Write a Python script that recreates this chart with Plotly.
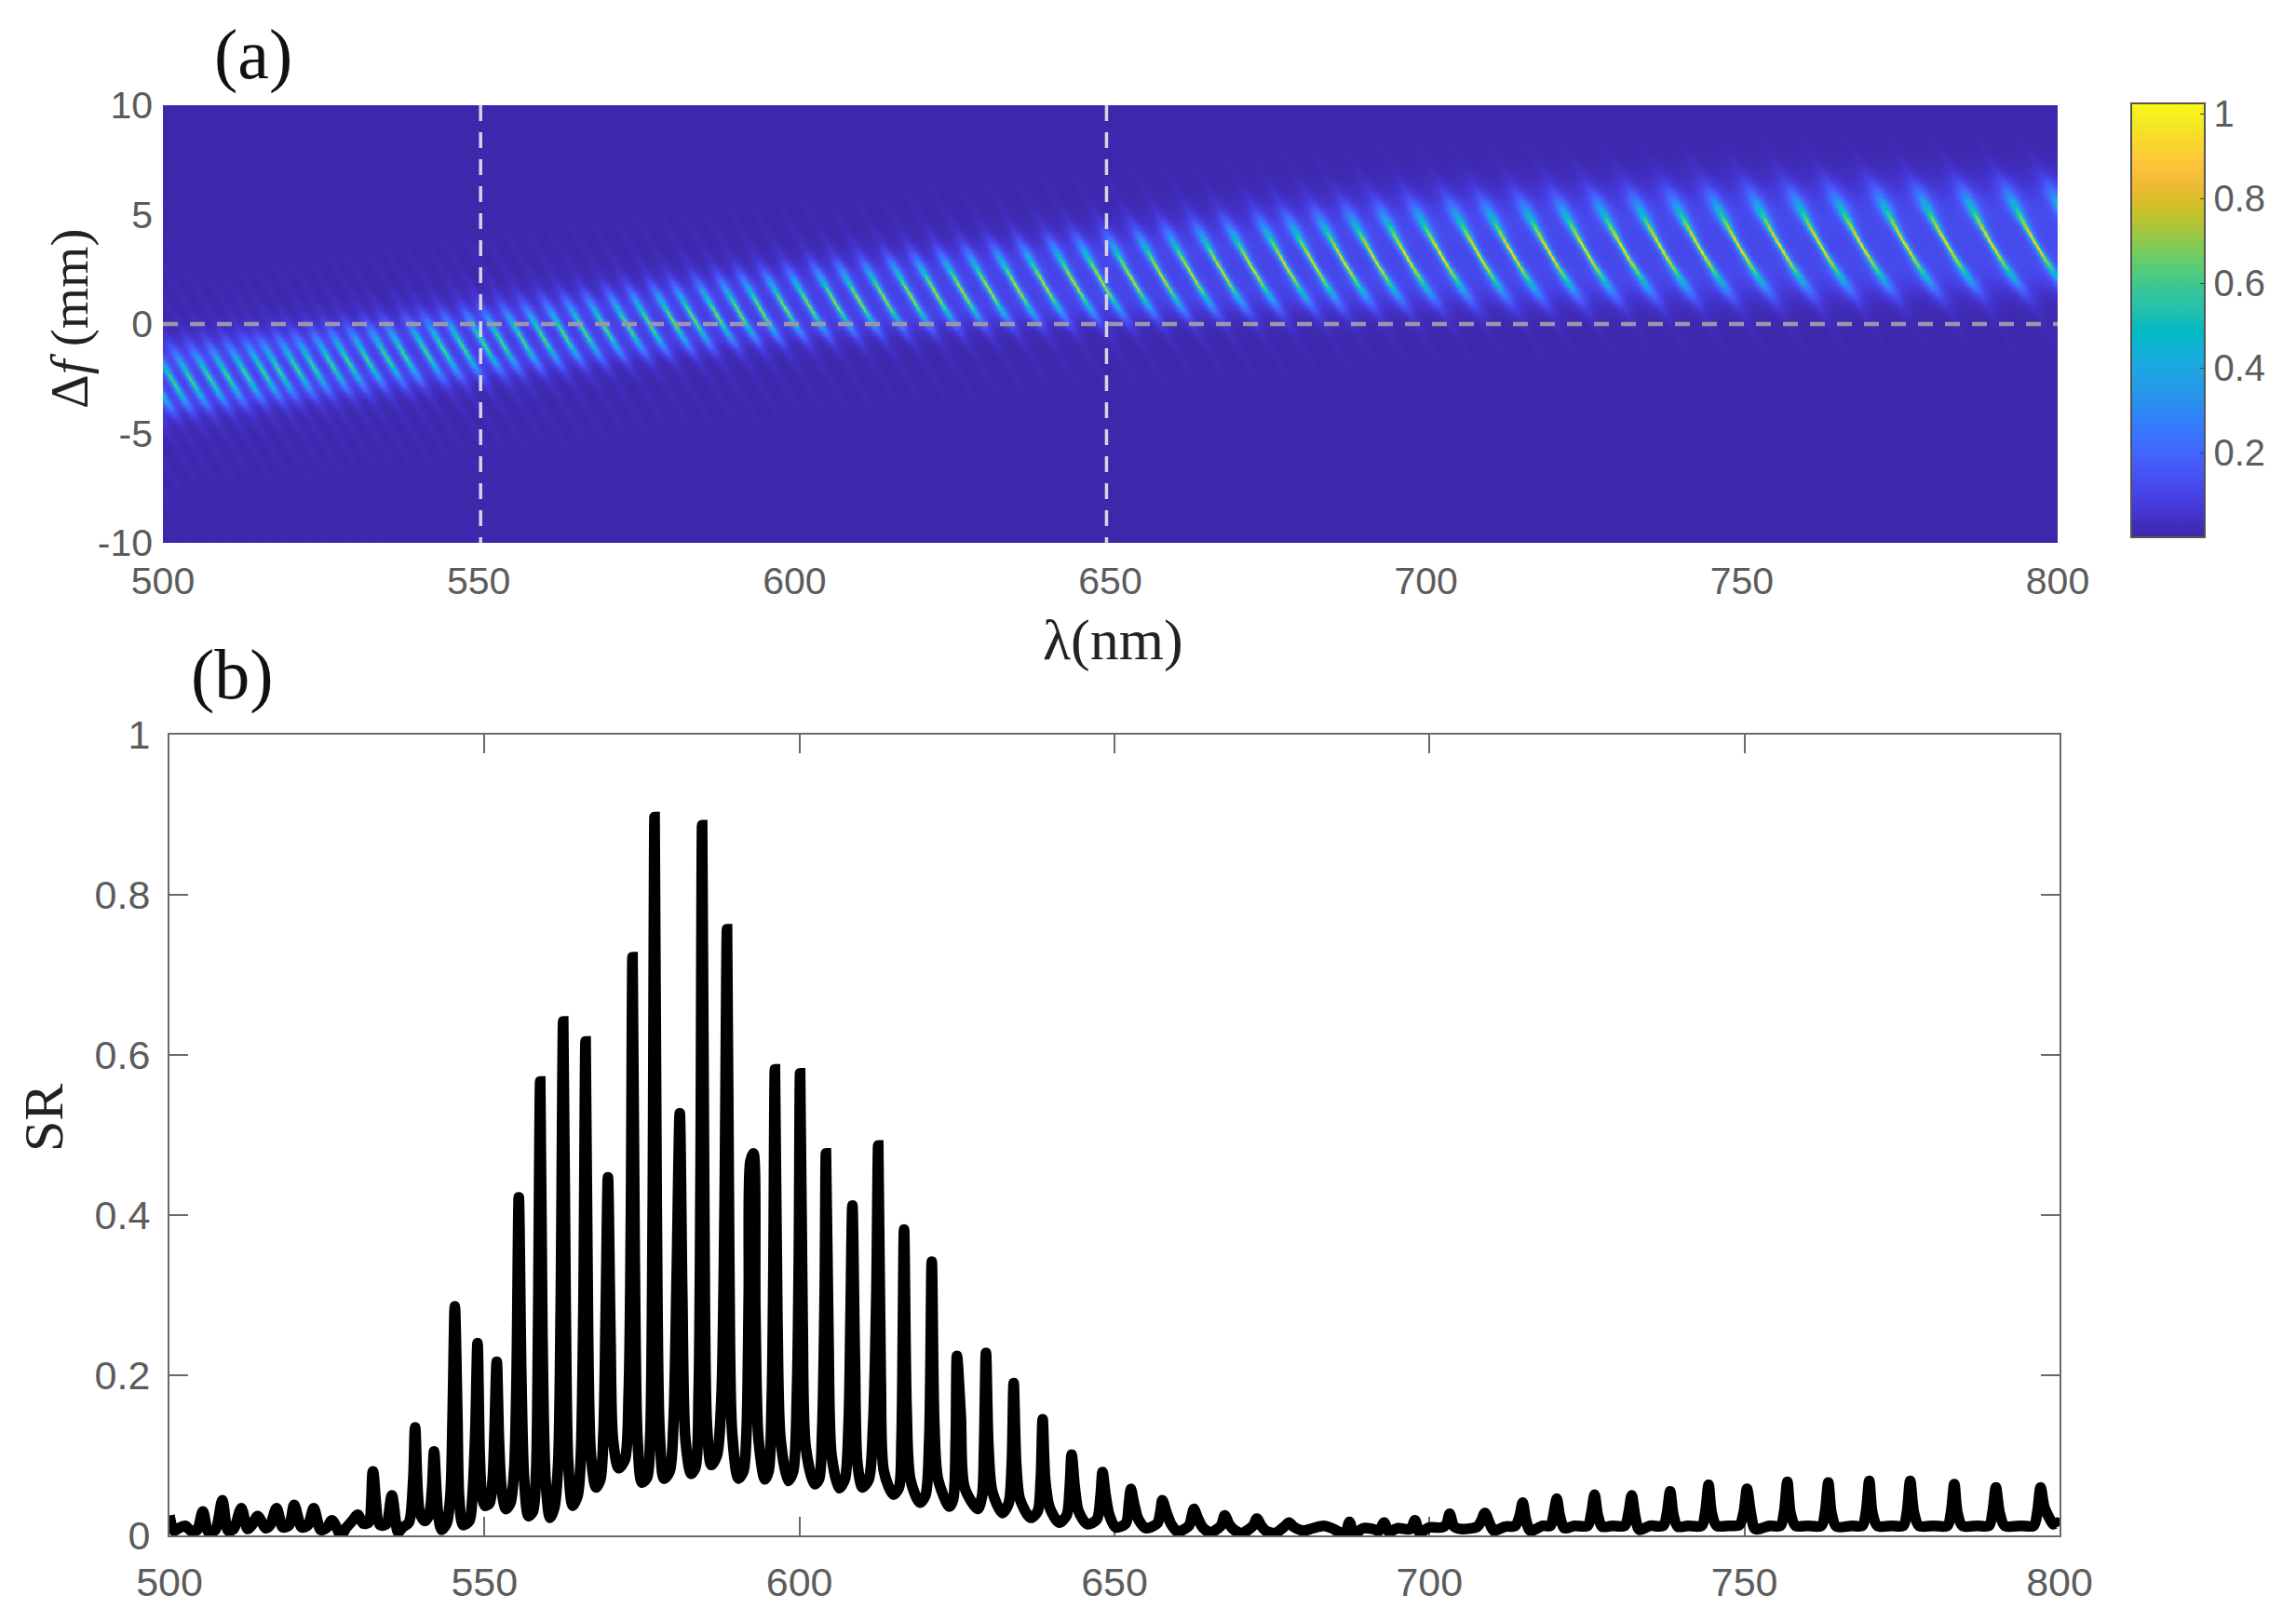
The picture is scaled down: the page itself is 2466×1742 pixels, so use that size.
import numpy as np
import plotly.graph_objects as go

W, H = 2466, 1742

# ---------- panel (b): SR curve ----------
sr_points = [
500,.025, 500.7,.006, 501.5,.009, 502.5,.012, 503.4,.006, 504.4,.007, 505.3,.03, 506.2,.004, 507.3,.007, 508.4,.044,
509.3,.006, 510.2,.008, 511.4,.034, 512.4,.008, 513.1,.013, 514,.024, 515.3,.009, 516,.013, 517,.034, 518,.01, 519,.013,
519.8,.038, 521,.01, 522,.013, 522.9,.034, 524,.007, 525,.01, 525.8,.019, 526.7,.007, 527.2,-.001, 528,.009, 529,.018,
529.9,.026, 530.7,.015, 531.6,.016, 532.3,.08, 533.4,.013, 534.4,.014, 535.3,.05, 536.3,.004, 537,.01, 538,.016,
538.7,.07, 539,.135, 539.7,.03, 540.5,.018, 541.2,.025, 541.7,.06, 542,.105, 542.6,.03, 543.2,.007, 544,.015,
544.6,.05, 544.95,.15, 545.3,.286, 545.7,.15, 546,.045, 546.6,.013, 547.6,.018, 548.1,.05, 548.55,.13, 548.9,.24,
549.25,.1, 549.6,.05, 550.1,.037, 550.8,.04, 551.3,.07, 551.6,.13, 551.95,.217, 552.3,.12, 552.7,.06, 553.4,.033,
554.1,.04, 554.7,.08, 555.1,.2, 555.45,.422, 555.85,.2, 556.3,.07, 557,.024, 557.7,.03, 558.2,.08, 558.5,.25, 558.85,.567,
559.2,.25, 559.7,.07, 560.4,.022, 561.1,.035, 561.7,.09, 562.1,.28, 562.5,.642, 562.9,.28, 563.3,.09, 564,.037,
564.8,.05, 565.3,.1, 565.7,.28, 566.05,.617, 566.45,.25, 566.9,.1, 567.7,.06, 568.4,.07, 568.9,.13, 569.25,.28,
569.6,.447, 570,.25, 570.4,.12, 571.3,.084, 572.3,.095, 572.9,.18, 573.25,.4, 573.5,.722, 573.85,.35, 574.3,.12,
575,.066, 575.8,.072, 576.3,.12, 576.7,.4, 577,.897, 577.35,.4, 577.8,.13, 578.5,.071, 579.4,.08, 580,.14, 580.5,.32,
581,.527, 581.4,.3, 581.9,.12, 582.8,.077, 583.5,.085, 584,.18, 584.3,.45, 584.55,.887, 584.9,.4, 585.3,.14, 586,.088,
586.9,.1, 587.6,.17, 588.1,.4, 588.5,.757, 588.85,.35, 589.3,.13, 590.3,.071, 591.1,.08, 591.6,.13, 591.95,.3, 592.2,.467,
592.7,.477, 593,.28, 593.5,.12, 594.5,.07, 595.1,.08, 595.6,.17, 595.85,.32, 596.1,.582, 596.5,.27, 597,.12, 598.2,.068,
599,.08, 599.6,.18, 599.9,.35, 600.1,.577, 600.5,.27, 601,.11, 602.4,.064, 603.1,.07, 603.6,.13, 604,.3, 604.2,.477,
604.6,.25, 605.1,.1, 606.3,.059, 607.2,.07, 607.8,.14, 608.1,.27, 608.4,.412, 608.8,.22, 609.2,.09, 610,.06, 611,.07,
611.7,.14, 612.2,.3, 612.5,.487, 612.9,.2, 613.4,.08, 614.9,.051, 615.8,.06, 616.2,.12, 616.6,.382, 617,.16, 617.6,.07,
619.1,.041, 620,.05, 620.6,.12, 621,.342, 621.4,.14, 622,.07, 623.8,.036, 624.4,.045, 624.8,.12, 625,.224, 625.6,.15,
626.2,.06, 628.3,.033, 629,.05, 629.3,.11, 629.6,.228, 630,.11, 630.6,.055, 632.2,.028, 633.2,.04, 633.7,.09, 634,.19,
634.4,.09, 635,.045, 636.7,.022, 637.8,.03, 638.3,.07, 638.6,.145, 639,.07, 639.7,.035, 641.2,.016, 642.4,.025,
642.9,.06, 643.2,.101, 643.7,.06, 644.3,.03, 645.7,.014, 647.2,.02, 647.8,.05, 648.1,.079, 648.6,.05, 649.2,.025,
650.2,.01, 651.8,.015, 652.3,.04, 652.6,.058, 653.1,.04, 653.8,.02, 655,.009, 656.8,.015, 657.3,.03, 657.6,.044,
658.2,.03, 659,.014, 660,.005, 661.8,.012, 662.3,.025, 662.6,.033, 663.2,.022, 664,.01, 665.2,.004, 666.9,.012,
667.5,.025, 668.2,.014, 669,.007, 670.2,.003, 672,.012, 672.6,.021, 673.3,.012, 674,.006, 675.5,.003, 677.1,.012,
677.7,.016, 678.4,.011, 680,.006, 681.5,.009, 683.2,.012, 684.5,.009, 685.5,.005, 686.6,.002, 687.3,.017, 688,.002,
689.5,.009, 691,.008, 692,.006, 692.8,.016, 693.5,.005, 695,.009, 697,.008, 697.7,.019, 698.4,.004, 700,.01, 702,.01,
702.7,.014, 703.2,.027, 703.9,.011, 705,.008, 707.6,.011, 708.2,.018, 708.8,.028, 709.5,.016, 710.2,.006, 712,.011,
713.6,.012, 714.3,.024, 714.8,.041, 715.3,.02, 716,.006, 718,.012, 719.2,.012, 719.7,.026, 720.2,.046, 720.7,.024, 721.4,.009,
723,.012, 725.1,.012, 725.7,.028, 726.2,.051, 726.7,.026, 727.4,.011, 729,.012, 731,.012, 731.6,.028, 732.1,.05,
732.6,.026, 733.3,.007, 735,.012, 737.1,.012, 737.7,.028, 738.2,.055, 738.7,.026, 739.4,.011, 741,.012, 743.2,.012,
743.8,.03, 744.3,.063, 744.8,.028, 745.6,.012, 747.5,.012, 749.2,.013, 749.9,.03, 750.4,.058, 751,.028, 751.7,.008,
754,.012, 755.7,.012, 756.3,.03, 756.8,.067, 757.3,.028, 758.1,.012, 760,.012, 762.2,.012, 762.8,.03, 763.3,.066,
763.8,.028, 764.6,.011, 767,.012, 768.7,.012, 769.3,.03, 769.8,.068, 770.3,.028, 771.1,.012, 773.5,.012, 775.2,.012,
775.8,.03, 776.3,.068, 776.9,.028, 777.7,.012, 780,.012, 782.2,.012, 782.8,.03, 783.3,.064, 783.8,.028, 784.6,.012,
787,.012, 788.8,.012, 789.4,.03, 789.9,.06, 790.5,.028, 791.3,.012, 794,.012, 795.9,.012, 796.5,.03, 797,.06, 797.6,.035,
798.5,.02, 799,.014, 799.6,.016, 800,.012,
]
sr_wavelength = sr_points[0::2]
sr_value = sr_points[1::2]

# ---------- panel (a): stripe crossings of df = 0 and band read-offs ----------
stripe_crossing = [478, 481, 484, 487, 490.4, 493.2, 496.2, 499.2, 502.3, 505.3, 508.4, 511.4, 514, 517, 519.8, 522.9,
    525.8, 529, 532.3, 535.3, 539, 542, 545.3, 548.9, 551.9, 555.4, 558.9, 562.5, 566, 569.6, 573.4, 577, 581, 584.5,
    588.5, 592.3, 596, 600, 604, 608.4, 612.4, 616.6, 621, 625.2, 629.6, 634, 638.6, 643.2, 648.1, 652.6, 657.6, 662.6,
    667.5, 672.6, 677.7, 683.2, 687.8, 692.8, 697.9, 703.2, 708.8, 714.8, 720.2, 726.2, 732.1, 738.2, 744.3, 750.4,
    756.8, 763.3, 769.8, 776.3, 783.3, 789.9, 797, 804, 811, 818, 825.5, 833]
band_wavelength = [470, 500, 525, 550, 575, 600, 625, 650, 675, 700, 750, 800, 840]
band_center_df = [-3.8, -2.75, -1.9, -1.0, -0.05, 0.8, 1.45, 2.0, 2.6, 3.1, 3.5, 3.75, 4.0]
band_halfwidth = [1.25, 1.25, 1.25, 1.3, 1.3, 1.35, 1.45, 1.6, 1.75, 1.9, 2.0, 2.0, 2.0]
band_peak = [.50, .50, .50, .52, .56, .62, .68, .72, .76, .80, .80, .78, .78]
band_halo = [.07, .07, .07, .07, .08, .08, .09, .10, .10, .11, .11, .12, .12]
stripe_width = [.50, .50, .48, .46, .42, .40, .38, .36, .36, .36, .36, .36, .36]
stripe_curvature = [.03, .03, .04, .05, .05, .05, .05, .06, .06, .07, .08, .10, .11]
marker_lines = [550.3, 649.4]

x_ticks = [500, 550, 600, 650, 700, 750, 800]
a_y_ticks = [-10, -5, 0, 5, 10]
a_y_labels = ["-10", "-5", "0", "5", "10"]
b_y_ticks = [0, .2, .4, .6, .8, 1]
b_y_labels = ["0", "0.2", "0.4", "0.6", "0.8", "1"]
cbar_ticks = [.2, .4, .6, .8, 1]
cbar_labels = ["0.2", "0.4", "0.6", "0.8", "1"]

# render the stripe field from the read-offs above
lam = np.arange(500, 800.01, 0.2)
df = np.arange(-10, 10.01, 0.05)
L, F = np.meshgrid(lam, df)
SLOPE = 2.05
U = F - np.interp(L, band_wavelength, band_center_df)
HW = np.interp(L, band_wavelength, band_halfwidth)
z = 0.004 + np.interp(L, band_wavelength, band_halo) * np.exp(-(U / (HW * np.where(U > 0, 1.2, 1.05))) ** 4)
for cross in stripe_crossing:
    fc = np.interp(cross, band_wavelength, band_center_df)
    for _ in range(3):
        fc = np.interp(cross - SLOPE * fc, band_wavelength, band_center_df)
    at = cross - SLOPE * fc
    amp = np.interp(at, band_wavelength, band_peak)
    curv = np.interp(at, band_wavelength, stripe_curvature)
    hw = np.interp(at, band_wavelength, band_halfwidth)
    w0 = np.interp(at, band_wavelength, stripe_width)
    u = F - fc
    uc = np.clip(u, -2.6, 2.6)
    d = L - (at - SLOPE * u + curv * uc ** 2)
    env = np.exp(-(u / (hw * np.where(u > 0, .95, .8))) ** 2)
    w = w0 * (1 + (u / 1.2) ** 2)
    core = amp * env / (1 + (d / w) ** 2) ** 1.5
    tail = .06 * np.exp(-np.abs(u) / 2.6) * np.exp(-(d / 0.8) ** 2)
    z = z + core + tail
z = np.clip(z, 0, 1.02).round(3)

parula = [(0.2422,0.1504,0.6603),(0.2647,0.1978,0.7952),(0.2783,0.2559,0.8991),(0.2810,0.3228,0.9579),
(0.2699,0.3892,0.9906),(0.2206,0.4603,0.9973),(0.1786,0.5289,0.9682),(0.1540,0.5902,0.9218),(0.1248,0.6459,0.8883),
(0.0689,0.6948,0.8394),(0.0067,0.7312,0.7660),(0.1408,0.7584,0.6842),(0.2161,0.7843,0.5923),(0.3406,0.8008,0.4789),
(0.5044,0.7993,0.3480),(0.6720,0.7793,0.2227),(0.8203,0.7498,0.1535),(0.9393,0.7288,0.2100),(0.9970,0.7659,0.2199),
(0.9786,0.8386,0.1766),(0.9597,0.9135,0.1423),(0.9769,0.9839,0.0805)]
colorscale = [[i / (len(parula) - 1), "rgb(%d,%d,%d)" % tuple(int(c * 255) for c in p)] for i, p in enumerate(parula)]

GREY = "#5c5c5c"
SANS = "Liberation Sans"
SERIF = "Liberation Serif"

fig = go.Figure()
fig.add_trace(go.Heatmap(x=lam, y=df, z=z, zmin=0, zmax=1.025, zsmooth="best", colorscale=colorscale, xaxis="x", yaxis="y",
    colorbar=dict(x=2289 / W, xanchor="left", y=1 - 111 / H, yanchor="top", thicknessmode="pixels", thickness=79,
                  lenmode="pixels", len=466, xpad=0, ypad=0, outlinecolor="#555555", outlinewidth=2,
                  tickmode="array", tickvals=cbar_ticks, ticktext=cbar_labels, ticks="inside", ticklen=6,
                  tickcolor="#444444", tickfont=dict(family=SANS, size=40, color=GREY))))
for v in marker_lines:
    fig.add_trace(go.Scatter(x=[v, v], y=[10, -10], mode="lines", xaxis="x", yaxis="y", showlegend=False,
                             line=dict(color="#d6d3e6", width=3.5, dash="17px,12px")))
fig.add_trace(go.Scatter(x=[500, 800], y=[0, 0], mode="lines", xaxis="x", yaxis="y", showlegend=False,
                         line=dict(color="#9b97ab", width=4.5, dash="16px,13px")))
fig.add_trace(go.Scatter(x=sr_wavelength, y=sr_value, mode="lines", xaxis="x2", yaxis="y2", showlegend=False,
                         cliponaxis=False, line=dict(color="#000000", width=11.5, shape="spline", smoothing=0.8)))

fig.update_layout(
    width=W, height=H, margin=dict(l=0, r=0, t=0, b=0, autoexpand=False), paper_bgcolor="white", plot_bgcolor="white",
    xaxis=dict(domain=[175 / W, 2210 / W], anchor="y", range=[500, 800], tickmode="array", tickvals=x_ticks, ticks="",
               showgrid=False, zeroline=False, showline=False, ticklabelstandoff=13,
               tickfont=dict(family=SANS, size=41, color=GREY)),
    yaxis=dict(domain=[1 - 583 / H, 1 - 113 / H], anchor="x", range=[-10, 10], tickmode="array", tickvals=a_y_ticks,
               ticktext=a_y_labels, ticks="", showgrid=False, zeroline=False, showline=False, ticklabelstandoff=10,
               tickfont=dict(family=SANS, size=41, color=GREY)),
    xaxis2=dict(domain=[182 / W, 2212 / W], anchor="y2", range=[500, 800], tickmode="array", tickvals=x_ticks,
                ticks="inside", ticklen=20, tickwidth=2, tickcolor="#6a6a6a", showgrid=False, zeroline=False,
                showline=True, linecolor="#6a6a6a", linewidth=2, mirror="ticks", layer="below traces", ticklabelstandoff=11,
                tickfont=dict(family=SANS, size=43, color=GREY)),
    yaxis2=dict(domain=[1 - 1649 / H, 1 - 789 / H], anchor="x2", range=[0, 1], tickmode="array", tickvals=b_y_ticks,
                ticktext=b_y_labels, ticks="inside", ticklen=20, tickwidth=2, tickcolor="#6a6a6a", showgrid=False,
                zeroline=False, showline=True, linecolor="#6a6a6a", linewidth=2, mirror="ticks", layer="below traces",
                ticklabelstandoff=10, tickfont=dict(family=SANS, size=43, color=GREY)),
    annotations=[
        dict(text="(a)", x=272 / W, y=1 - 59 / H, font=dict(family=SERIF, size=76, color="#111111")),
        dict(text="(b)", x=249 / W, y=1 - 725 / H, font=dict(family=SERIF, size=76, color="#111111")),
        dict(text="λ(nm)", x=1195 / W, y=1 - 687 / H, font=dict(family=SERIF, size=62, color="#222222")),
        dict(text="Δ<i>f</i> (mm)", x=75 / W, y=1 - 343 / H, textangle=-90, font=dict(family=SERIF, size=57, color="#222222")),
        dict(text="SR", x=47 / W, y=1 - 1201 / H, textangle=-90, font=dict(family=SERIF, size=60, color="#222222")),
    ],
)
for a in fig.layout.annotations:
    a.update(xref="paper", yref="paper", xanchor="center", yanchor="middle", showarrow=False)

fig.write_html("out.html", config=dict(displayModeBar=False),
               post_script="document.body.style.margin='0';document.body.style.overflow='hidden';")
